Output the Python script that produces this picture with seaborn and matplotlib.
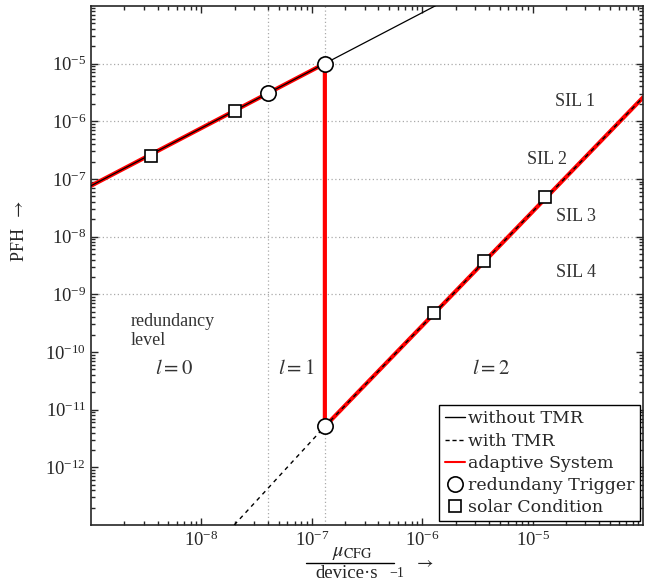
"""
PFH over configuration upset rate: TMR vs. adaptive redundancy
"""

import numpy as np
import pandas as pd
import matplotlib
matplotlib.use("Agg")
import matplotlib.pyplot as plt
from matplotlib.lines import Line2D
import seaborn as sns

# --- data ---
# without TMR (solid, slope 1 in log-log)
no_tmr_x = [1e-9, 1.31e-7, 1e-4]
no_tmr_y = [7.6e-8, 1.0e-5, 7.6e-3]

# with TMR (dashed, slope 2 in log-log)
tmr_x = [1.98e-8, 1.31e-7, 1e-4]
tmr_y = [1.0e-13, 5.1e-12, 2.6e-6]

# adaptive system path (red)
adapt_x = [1e-9, 1.31e-7, 1.31e-7, 1e-4]
adapt_y = [7.6e-8, 1.0e-5, 5.1e-12, 2.6e-6]

# redundancy trigger points (circles)
trigger_x = [4.0e-8, 1.31e-7, 1.31e-7]
trigger_y = [3.05e-6, 1.0e-5, 5.1e-12]

# solar condition points (squares)
solar_x = [3.5e-9, 2.0e-8, 1.28e-6, 3.6e-6, 1.3e-5]
solar_y = [2.5e-7, 1.5e-6, 4.8e-10, 3.8e-9, 4.9e-8]

# SIL boundaries (horizontal dotted lines)
sil_bounds = [1e-5, 1e-6, 1e-7, 1e-8, 1e-9]
sil_labels = ["SIL 1", "SIL 2", "SIL 3", "SIL 4"]
sil_label_x = [2.44e-5, 1.34e-5, 2.44e-5, 2.44e-5]
sil_label_y = [2.2e-6, 2.2e-7, 2.2e-8, 2.4e-9]

level_labels = ["$l = 0$", "$l = 1$", "$l = 2$"]
level_x = [5.6e-9, 7.2e-8, 4.2e-6]
level_y = 4.9e-11

sns.set_style("ticks")
plt.rcParams['font.family'] = ['Liberation Serif', 'DejaVu Serif']
plt.rcParams['mathtext.fontset'] = 'stix'

W, H = 655, 582
fig = plt.figure(figsize=(W / 100, H / 100), dpi=100)
ax = fig.add_axes([0.139, 0.098, 0.843, 0.892])
ax.set_xscale('log')
ax.set_yscale('log')

# grid-like guides
for b in sil_bounds:
    ax.axhline(b, color='#aaaaaa', lw=0.9, ls=(0, (1, 2)), zorder=0)
for tx in sorted(set(trigger_x)):
    ax.axvline(tx, color='#aaaaaa', lw=0.9, ls=(0, (1, 2)), zorder=0)

adapt_df = pd.DataFrame({'x': adapt_x, 'y': adapt_y})
sns.lineplot(data=adapt_df, x='x', y='y', sort=False, estimator=None,
             color='#ff0000', lw=3.0, ax=ax, zorder=2)
sns.lineplot(x=no_tmr_x, y=no_tmr_y, sort=False, estimator=None,
             color='black', lw=0.9, ax=ax, zorder=3)
sns.lineplot(x=tmr_x, y=tmr_y, sort=False, estimator=None,
             color='black', lw=1.0, ls=(0, (3, 3)), ax=ax, zorder=3)

ax.plot(trigger_x, trigger_y, ls='none', marker='o', ms=11,
        mfc='white', mec='black', mew=1.2, zorder=4)
ax.plot(solar_x, solar_y, ls='none', marker='s', ms=8.5,
        mfc='white', mec='black', mew=1.2, zorder=4)

ax.set_xlim(1e-9, 1e-4)
ax.set_ylim(1e-13, 1e-4)
ax.set_yticks([1e-12, 1e-11, 1e-10, 1e-9, 1e-8, 1e-7, 1e-6, 1e-5])
ax.set_xticks([1e-8, 1e-7, 1e-6, 1e-5])
ax.tick_params(which='both', direction='in', top=True, right=True,
               labelsize=13.5, width=1.0)
ax.tick_params(which='major', length=5)
ax.tick_params(which='minor', length=3)
ax.tick_params(axis='x', pad=4)
for s in ax.spines.values():
    s.set_linewidth(1.2)

# annotations
for lab, x, y in zip(sil_labels, sil_label_x, sil_label_y):
    ax.text(x, y, lab, ha='center', va='center', fontsize=13, color='#333333')
for lab, x in zip(level_labels, level_x):
    ax.text(x, level_y, lab, ha='center', va='center', fontsize=15, color='#333333')
ax.text(2.3e-9, 2.3e-10, "redundancy\nlevel", ha='left', va='center',
        fontsize=13, color='#333333', linespacing=1.1)

ax.set_ylabel(r'PFH  $\rightarrow$', fontsize=13)
ax.yaxis.set_label_coords(-0.115, 0.566)
ax.set_xlabel('')

# x label as a stacked fraction: mu_CFG / (device * s^-1) ->
fig.text(352 / W, 1 - 556 / H, r'$\mu_{\mathrm{CFG}}$', ha='center',
         va='baseline', fontsize=14.5)
fig.add_artist(Line2D([306 / W, 394 / W], [1 - 563 / H, 1 - 563 / H],
                      transform=fig.transFigure, color='black', lw=1.0))
fig.text(347 / W, 1 - 578 / H, 'device·s', ha='center',
         va='baseline', fontsize=13.5)
fig.text(397 / W, 1 - 577 / H, '−1', ha='center',
         va='baseline', fontsize=10)
fig.text(424 / W, 1 - 563 / H, r'$\rightarrow$', ha='center',
         va='center', fontsize=13)

handles = [
    Line2D([], [], color='black', lw=1.0),
    Line2D([], [], color='black', lw=1.0, ls=(0, (3, 2))),
    Line2D([], [], color='#ff0000', lw=1.5),
    Line2D([], [], ls='none', marker='o', ms=11, mfc='white', mec='black', mew=1.2),
    Line2D([], [], ls='none', marker='s', ms=9, mfc='white', mec='black', mew=1.2),
]
labels = ["without TMR", "with TMR", "adaptive System",
          "redundany Trigger", "solar Condition"]
leg = ax.legend(handles, labels, loc='lower right',
                prop={'family': 'DejaVu Serif', 'size': 12.5},
                handlelength=1.2, handletextpad=0.15, borderpad=0.3,
                labelspacing=0.3, fancybox=False, framealpha=1,
                edgecolor='black', borderaxespad=0.2)
leg.get_frame().set_linewidth(1.0)

fig.savefig('out.png', dpi=100)
